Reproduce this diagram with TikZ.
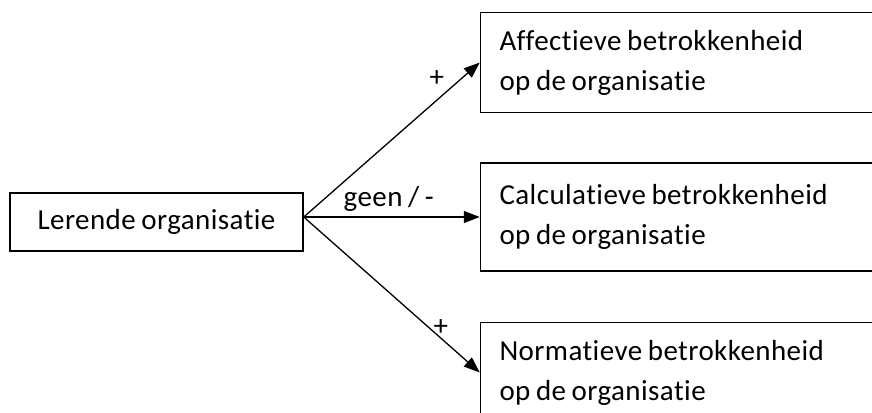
\documentclass[tikz,border=0pt]{standalone}
\usepackage{fontspec}
\setmainfont{Carlito}[Ligatures={NoCommon},WordSpace=0.8,LetterSpace=1.5]
\usetikzlibrary{arrows.meta,positioning}

\begin{document}
\begin{tikzpicture}[x=1pt,y=1pt,every node/.style={font=\fontsize{29}{40}\selectfont},
    orgbox/.style={draw,line width=1.5pt,minimum width=293pt,minimum height=58pt},
    betrok/.style={draw,line width=1.5pt,text width=380pt,inner xsep=19pt,minimum height=100pt,align=flush left},
    rel/.style={->,line width=1.3pt},>={Triangle[length=16pt,width=12pt]}]

    \path[use as bounding box,clip] (0,0) rectangle (872,-412);

    \node[orgbox] (LO) at (156.5,-222) {Lerende organisatie};
    \coordinate (FAN) at ([yshift=5pt]LO.east);
    \node[betrok,minimum height=108pt] (CALC) [right=176pt of LO,yshift=5pt] {Calculatieve betrokkenheid\\op de organisatie};
    \node[betrok] (AFF) [above=49pt of CALC] {Affectieve betrokkenheid\\op de organisatie};
    \node[betrok] (NORM) [below=50pt of CALC] {Normatieve betrokkenheid\\op de organisatie};

    \draw[rel] (FAN) -- node[pos=0.82,above left] {+} (AFF.west);
    \draw[rel] (FAN) -- node[above=2pt,xshift=-3pt] {geen / -} (CALC.west);
    \draw[rel] (FAN) -- node[pos=0.79,above,xshift=-2pt] {+} (NORM.west);
\end{tikzpicture}
\end{document}
